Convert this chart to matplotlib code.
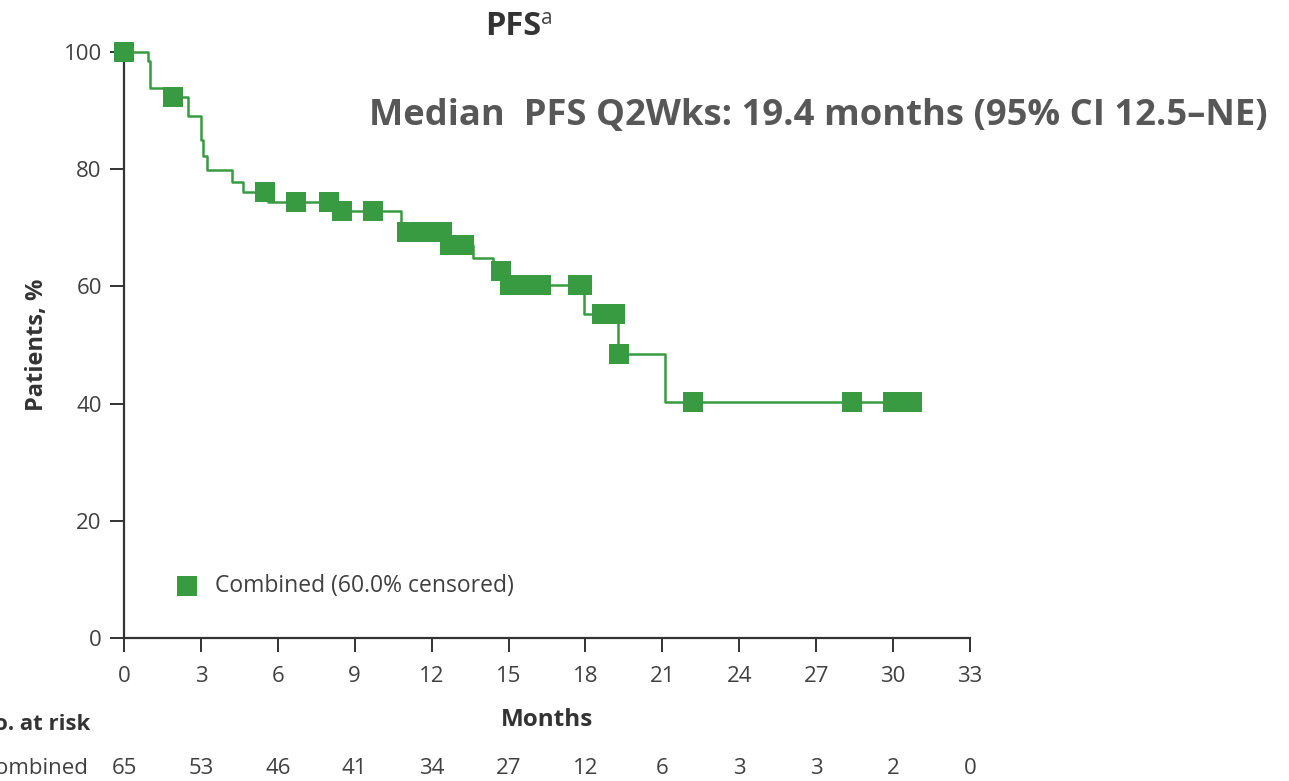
import numpy as np
import matplotlib
matplotlib.use("Agg")
import matplotlib.pyplot as plt

plt.rcParams['font.family'] = ['Open Sans', 'DejaVu Sans']

# Kaplan-Meier step function: time (months) at which each drop occurs and survival (%) after it
event_times = [0.0, 0.95, 1.0, 1.75, 2.5, 3.0, 3.1, 3.25, 4.2, 4.65, 5.6, 8.25,
               10.8, 12.6, 13.6, 14.4, 14.9, 17.95, 19.28, 21.1]
survival = [100.0, 98.4, 93.9, 92.3, 89.1, 85.0, 82.3, 79.9, 77.8, 76.1, 74.4, 72.8,
            69.3, 67.1, 64.8, 62.7, 60.2, 55.3, 48.5, 40.3]
curve_end = 30.75

# Censored observations (months)
censor_times = [0.0, 1.9, 5.5, 6.7, 8.0, 8.5, 9.7, 11.05, 11.3, 11.6, 11.9, 12.15, 12.4,
                12.7, 13.0, 13.25, 14.7, 15.05, 15.35, 15.65, 15.95, 16.25, 17.7, 17.85,
                18.65, 18.9, 19.15, 19.32, 22.2, 28.4, 30.0, 30.35, 30.75]

x_ticks = [0, 3, 6, 9, 12, 15, 18, 21, 24, 27, 30, 33]
y_ticks = [0, 20, 40, 60, 80, 100]
at_risk = [65, 53, 46, 41, 34, 27, 12, 6, 3, 3, 2, 0]

green = '#389a41'
axis_col = '#333333'
text_col = '#404040'

fig = plt.figure(figsize=(12.89, 7.81), dpi=100)
ax = fig.add_axes([0.0962, 0.1831, 0.6563, 0.7503])

# step curve
xs = list(event_times) + [curve_end]
ys = list(survival) + [survival[-1]]
ax.plot(xs, ys, drawstyle='steps-post', color=green, lw=1.8, clip_on=False, zorder=3)

# censor marks placed on the curve
et = np.array(event_times)
sv = np.array(survival)
c_idx = np.searchsorted(et, np.array(censor_times), side='right') - 1
c_y = sv[c_idx]
ax.plot(censor_times, c_y, ls='none', marker='s', ms=13.7, mfc=green, mec=green,
        mew=0, clip_on=False, zorder=4)

ax.set_xlim(0, 33)
ax.set_ylim(0, 100)
ax.set_xticks(x_ticks)
ax.set_yticks(y_ticks)
ax.set_xticklabels([str(v) for v in x_ticks])
ax.set_yticklabels([str(v) for v in y_ticks])
for s in ('top', 'right'):
    ax.spines[s].set_visible(False)
for s in ('left', 'bottom'):
    ax.spines[s].set_color(axis_col)
    ax.spines[s].set_linewidth(1.6)
ax.tick_params(axis='both', direction='out', length=10, width=1.4, color=axis_col,
               labelsize=16, labelcolor=text_col)
ax.tick_params(axis='x', pad=10)
ax.tick_params(axis='y', pad=6)

ax.set_ylabel('Patients, %', fontsize=17, fontweight='bold', color='#333333')
ax.yaxis.set_label_coords(-0.103, 0.5)
ax.yaxis.label.set_va('center')
ax.set_xlabel('Months', fontsize=17.5, fontweight='bold', color='#333333')
ax.xaxis.set_label_coords(0.5, -0.14)
ax.xaxis.label.set_va('center')

# legend
ax.plot([2.46], [8.9], ls='none', marker='s', ms=13.7, mfc=green, mec=green, mew=0,
        clip_on=False)
ax.text(3.55, 8.9, 'Combined (60.0% censored)', fontsize=16.5, color=text_col,
        va='center', ha='left')

# title and median annotation
fig.text(0.3760, 0.966, 'PFS', fontsize=23.5, fontweight='bold', color='#333333',
         ha='left', va='center')
fig.text(0.4200, 0.976, 'a', fontsize=15, color='#444444', ha='left', va='center')
fig.text(0.9837, 0.851, 'Median  PFS Q2Wks: 19.4 months (95% CI 12.5\u2013NE)',
         fontsize=26.2, fontweight='bold', color='#575757', ha='right', va='center')

# number at risk table
trans = ax.get_xaxis_transform()
ax.text(-1.32, -0.148, 'No. at risk', transform=trans, fontsize=16, fontweight='bold',
        color='#333333', ha='right', va='center')
ax.text(-1.4, -0.222, 'Combined', transform=trans, fontsize=16, color=text_col,
        ha='right', va='center')
for xv, n in zip(x_ticks, at_risk):
    ax.text(xv, -0.222, str(n), transform=trans, fontsize=16, color=text_col,
            ha='center', va='center')

fig.savefig('out.png', dpi=100)
